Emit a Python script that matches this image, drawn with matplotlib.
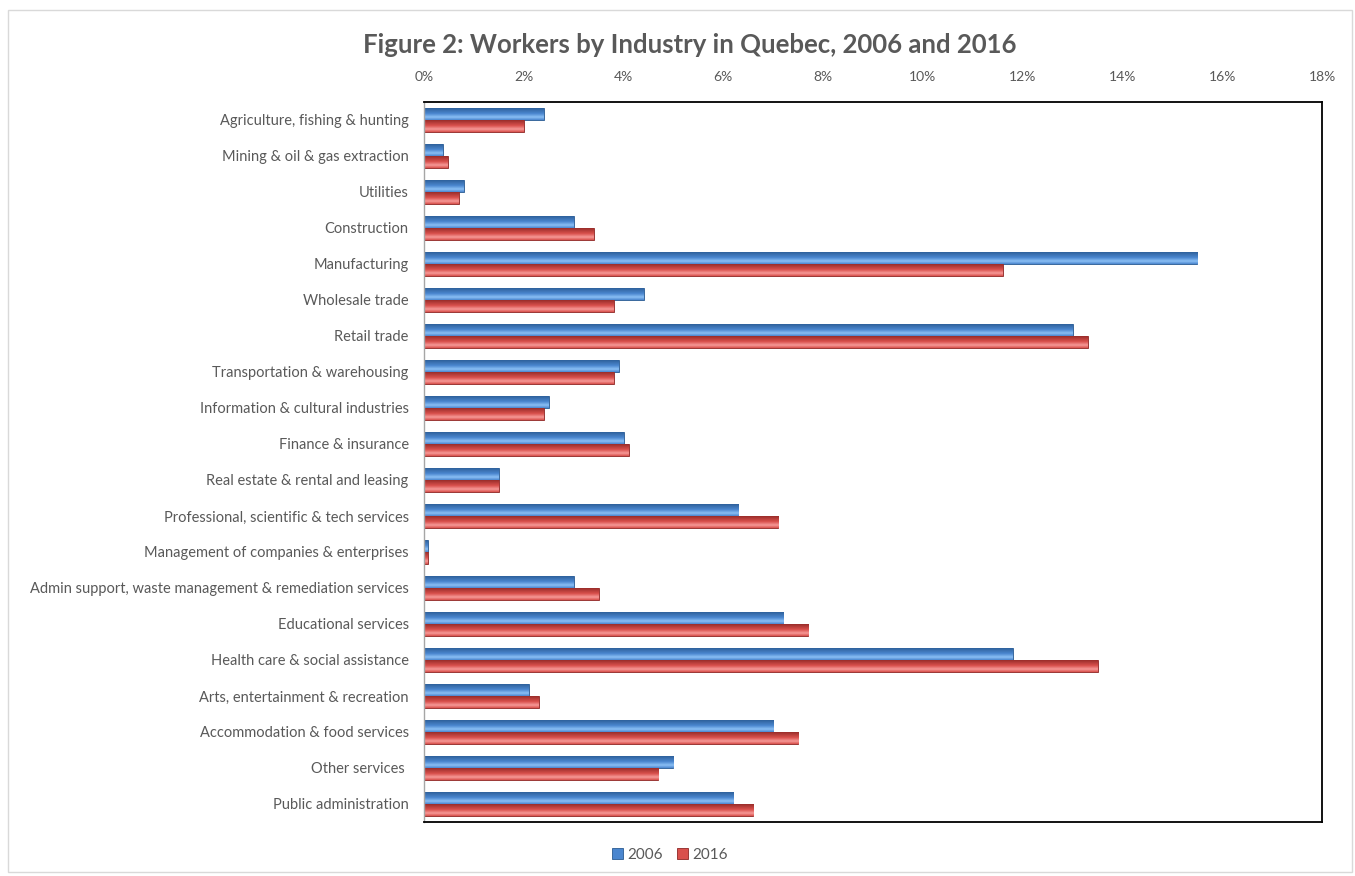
import matplotlib
matplotlib.use("Agg")
import matplotlib.pyplot as plt
import numpy as np
from matplotlib.patches import Rectangle
from matplotlib.ticker import FuncFormatter, MultipleLocator
from matplotlib.colors import LinearSegmentedColormap

plt.rcParams['font.family'] = ['Lato', 'DejaVu Sans']

categories = [
    "Agriculture, fishing & hunting",
    "Mining & oil & gas extraction",
    "Utilities",
    "Construction",
    "Manufacturing",
    "Wholesale trade",
    "Retail trade",
    "Transportation & warehousing",
    "Information & cultural industries",
    "Finance & insurance",
    "Real estate & rental and leasing",
    "Professional, scientific & tech services",
    "Management of companies & enterprises",
    "Admin support, waste management & remediation services",
    "Educational services",
    "Health care & social assistance",
    "Arts, entertainment & recreation",
    "Accommodation & food services",
    "Other services ",
    "Public administration",
]
values_2006 = [2.4, 0.38, 0.8, 3.0, 15.5, 4.4, 13.0, 3.9, 2.5, 4.0,
               1.5, 6.3, 0.08, 3.0, 7.2, 11.8, 2.1, 7.0, 5.0, 6.2]
values_2016 = [2.0, 0.48, 0.7, 3.4, 11.6, 3.8, 13.3, 3.8, 2.4, 4.1,
               1.5, 7.1, 0.08, 3.5, 7.7, 13.5, 2.3, 7.5, 4.7, 6.6]
series_labels = ["2006", "2016"]

fig = plt.figure(figsize=(13.55, 8.76), dpi=100)
fig.patches.append(Rectangle((8/1355, 4/876), 1344/1355, 862/876, transform=fig.transFigure,
                             fill=False, edgecolor="#d9d9d9", linewidth=1))
ax = fig.add_axes([424/1355, 1 - 822/876, 898/1355, 720/876])

y = np.arange(len(categories))
h = 0.335

def grad_cmap(light, mid, dark):
    return LinearSegmentedColormap.from_list("g", [(0, dark), (0.5, mid), (0.78, light), (1.0, mid)])

cm_blue = grad_cmap("#8cc0f5", "#4a86cf", "#2a5a92")
cm_red = grad_cmap("#f79a98", "#d9504c", "#8e2724")
grad = np.linspace(0, 1, 64).reshape(-1, 1)

bars1 = ax.barh(y - h / 2, values_2006, height=h, color="#4a86cf", edgecolor="#2a5a92", linewidth=0.6, label=series_labels[0], zorder=2)
bars2 = ax.barh(y + h / 2, values_2016, height=h, color="#d9504c", edgecolor="#8e2724", linewidth=0.6, label=series_labels[1], zorder=2)

for bars, cm in ((bars1, cm_blue), (bars2, cm_red)):
    for b in bars:
        x0, y0 = b.get_x(), b.get_y()
        w, hh = b.get_width(), b.get_height()
        im = ax.imshow(grad, cmap=cm, aspect="auto", extent=(x0, x0 + w, y0 + hh, y0),
                       origin="upper", zorder=2.5, interpolation="bilinear")
        im.set_clip_path(b)

ax.set_xlim(0, 18)
ax.set_ylim(len(categories) - 0.5, -0.5)
ax.set_yticks(y)
ax.set_yticklabels(categories, fontsize=10.5, color="#595959")
ax.xaxis.set_major_locator(MultipleLocator(2))
ax.xaxis.set_major_formatter(FuncFormatter(lambda v, p: f"{v:.0f}%"))
ax.xaxis.tick_top()
ax.tick_params(axis="x", length=0, labelsize=10, labelcolor="#595959", pad=14)
ax.tick_params(axis="y", length=0, pad=11)

for s in ("top", "right", "bottom"):
    ax.spines[s].set_color("#000000")
    ax.spines[s].set_linewidth(1.3)
ax.spines["left"].set_color("#a6a6a6")
ax.spines["left"].set_linewidth(1.0)

fig.text(690/1355, 1 - 45/876, "Figure 2: Workers by Industry in Quebec, 2006 and 2016",
         ha="center", va="center", fontsize=18.5, fontweight="bold", color="#595959")

leg = fig.legend(handles=[bars1, bars2], labels=series_labels, loc="center",
                 bbox_to_anchor=(670/1355, 1 - 855/876), ncol=2, frameon=False,
                 fontsize=11, handlelength=0.7, handleheight=0.7, handletextpad=0.3,
                 columnspacing=0.9)
for t in leg.get_texts():
    t.set_color("#595959")

fig.savefig("out.png", dpi=100)
